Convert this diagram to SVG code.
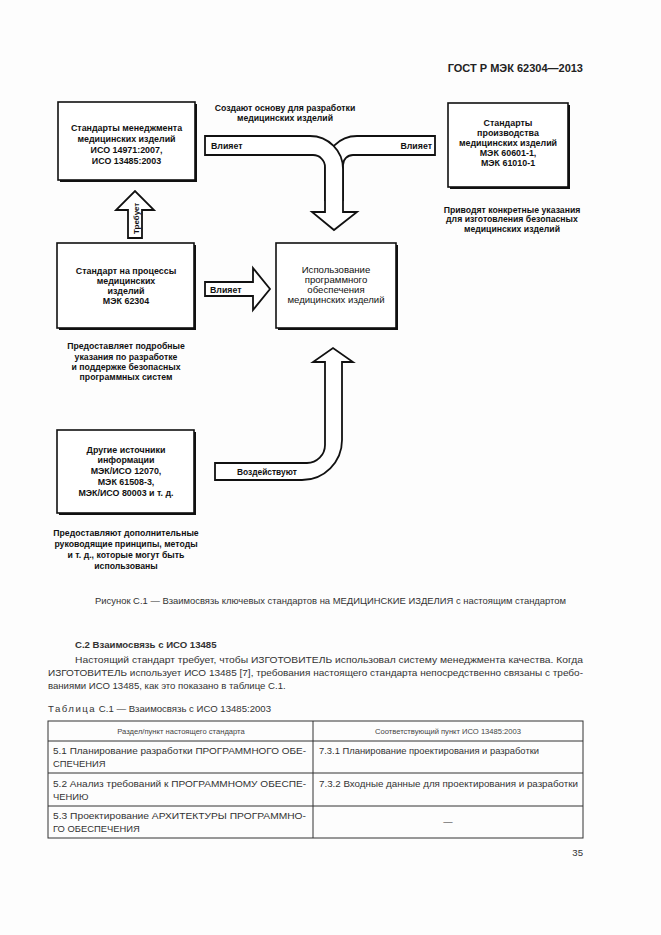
<svg xmlns="http://www.w3.org/2000/svg" width="661" height="935" viewBox="0 0 661 935">
<style>
.bg{fill:#fdfdfd}
.box{fill:#fff;stroke:#111;stroke-width:1.6}
.sh{fill:#111}
.arr{fill:#fff;stroke:#111;stroke-width:1.8;stroke-linejoin:miter}
.t{font-family:"Liberation Sans",Arial,sans-serif;font-size:8.9px;fill:#111;text-anchor:middle}
.c{font-size:8.7px}
.n{font-size:9.6px}
.b{font-weight:bold}
.al{font-family:"Liberation Sans",Arial,sans-serif;font-size:8.8px;font-weight:bold;fill:#111}
.p{font-family:"Liberation Sans",Arial,sans-serif;font-size:9.6px;fill:#333}
.tc{font-family:"Liberation Sans",Arial,sans-serif;font-size:9.4px;fill:#333}
.th{font-family:"Liberation Sans",Arial,sans-serif;font-size:7.6px;fill:#444;text-anchor:middle}
.grid{fill:none;stroke:#333;stroke-width:1}
</style>
<rect class="bg" x="0" y="0" width="661" height="935"/>
<text class="p b" x="583" y="72" text-anchor="end" style="font-size:11px;fill:#222">ГОСТ Р МЭК 62304—2013</text>

<g id="connectors">
  <path class="arr" d="M435,136 H357 A32,32 0 0 0 325,168 V200 H343 V165 A10,10 0 0 1 353,155 H435 Z"/>
  <path class="arr" d="M205,136 H310 A33,33 0 0 1 343,169 V212 H357 L334,230 L312,212 H325 V167 A12,12 0 0 0 313,155 H205 Z"/>
  <text class="al" x="211" y="149">Влияет</text>
  <text class="al" x="432" y="149" text-anchor="end">Влияет</text>
  <path class="arr" d="M128,238 V210 H116 L135,191 L154,210 H142 V238 Z"/>
  <text class="al" transform="translate(138.5,234) rotate(-90)" style="font-size:8px">Требует</text>
  <path class="arr" d="M205,282 H253 V268 L270,289 L253,310 V296 H205 Z"/>
  <text class="al" x="210" y="292.5">Влияет</text>
  <path class="arr" d="M215,463 H307 A18,18 0 0 0 325,445 V362 H313 L333,348 L353,362 H342 V440 A40,40 0 0 1 302,480 H215 Z"/>
  <text class="al" x="237" y="475" style="font-size:8.4px">Воздействуют</text>
  <text class="t c b" x="285" y="111">Создают основу для разработки</text>
  <text class="t c b" x="285" y="121">медицинских изделий</text>
</g>

<g id="node-mgmt">
  <rect class="sh" x="60" y="104" width="137" height="78"/>
  <rect class="box" x="58" y="102" width="137" height="78"/>
  <text class="t b" x="126.5" y="131">Стандарты менеджмента</text>
  <text class="t b" x="126.5" y="142">медицинских изделий</text>
  <text class="t b" x="126.5" y="153">ИСО 14971:2007,</text>
  <text class="t b" x="126.5" y="164">ИСО 13485:2003</text>
</g>

<g id="node-prod">
  <rect class="sh" x="450" y="105" width="120" height="84"/>
  <rect class="box" x="448" y="103" width="120" height="84"/>
  <text class="t b" x="508" y="126">Стандарты</text>
  <text class="t b" x="508" y="136">производства</text>
  <text class="t b" x="508" y="146">медицинских изделий</text>
  <text class="t b" x="508" y="156">МЭК 60601-1,</text>
  <text class="t b" x="508" y="166">МЭК 61010-1</text>
  <text class="t c b" x="512" y="213">Приводят конкретные указания</text>
  <text class="t c b" x="512" y="222">для изготовления безопасных</text>
  <text class="t c b" x="512" y="232">медицинских изделий</text>
</g>

<g id="node-process">
  <rect class="sh" x="59" y="245" width="137" height="85"/>
  <rect class="box" x="57" y="243" width="137" height="85"/>
  <text class="t b" x="126" y="274">Стандарт на процессы</text>
  <text class="t b" x="126" y="284">медицинских</text>
  <text class="t b" x="126" y="294">изделий</text>
  <text class="t b" x="126" y="304">МЭК 62304</text>
  <text class="t c b" x="126" y="349">Предоставляет подробные</text>
  <text class="t c b" x="126" y="360">указания по разработке</text>
  <text class="t c b" x="126" y="370">и поддержке безопасных</text>
  <text class="t c b" x="126" y="380">программных систем</text>
</g>

<g id="node-use">
  <rect class="sh" x="278" y="245" width="120" height="85"/>
  <rect class="box" x="276" y="243" width="120" height="85"/>
  <text class="t n" x="336" y="273">Использование</text>
  <text class="t n" x="336" y="283">программного</text>
  <text class="t n" x="336" y="293">обеспечения</text>
  <text class="t n" x="336" y="303">медицинских изделий</text>
</g>

<g id="node-other">
  <rect class="sh" x="59" y="432" width="137" height="83"/>
  <rect class="box" x="57" y="430" width="137" height="83"/>
  <text class="t b" x="126" y="453">Другие источники</text>
  <text class="t b" x="126" y="463">информации</text>
  <text class="t b" x="126" y="474">МЭК/ИСО 12070,</text>
  <text class="t b" x="126" y="485">МЭК 61508-3,</text>
  <text class="t b" x="126" y="496">МЭК/ИСО 80003 и т. д.</text>
  <text class="t c b" x="126" y="536">Предоставляют дополнительные</text>
  <text class="t c b" x="126" y="547">руководящие принципы, методы</text>
  <text class="t c b" x="126" y="558">и т. д., которые могут быть</text>
  <text class="t c b" x="126" y="569">использованы</text>
</g>

<text class="p" x="95" y="604" textLength="471" lengthAdjust="spacingAndGlyphs">Рисунок С.1 — Взаимосвязь ключевых стандартов на МЕДИЦИНСКИЕ ИЗДЕЛИЯ с настоящим стандартом</text>
<text class="p b" x="75" y="648">С.2 Взаимосвязь с ИСО 13485</text>
<text class="p" x="75" y="663" textLength="508" lengthAdjust="spacingAndGlyphs">Настоящий стандарт требует, чтобы ИЗГОТОВИТЕЛЬ использовал систему менеджмента качества. Когда</text>
<text class="p" x="48" y="676" textLength="535" lengthAdjust="spacingAndGlyphs">ИЗГОТОВИТЕЛЬ использует ИСО 13485 [7], требования настоящего стандарта непосредственно связаны с требо-</text>
<text class="p" x="48" y="689">ваниями ИСО 13485, как это показано в таблице С.1.</text>
<text class="p" x="48" y="712"><tspan letter-spacing="1.5">Таблица</tspan> С.1 — Взаимосвязь с ИСО 13485:2003</text>

<g id="table">
  <rect class="grid" x="48" y="721" width="535" height="117"/>
  <line class="grid" x1="48" y1="741" x2="583" y2="741"/>
  <line class="grid" x1="48" y1="773" x2="583" y2="773"/>
  <line class="grid" x1="48" y1="806" x2="583" y2="806"/>
  <line class="grid" x1="313" y1="721" x2="313" y2="838"/>
  <text class="th" x="181" y="734">Раздел/пункт настоящего стандарта</text>
  <text class="th" x="448" y="734">Соответствующий пункт ИСО 13485:2003</text>
  <text class="tc" x="53" y="754" textLength="253" lengthAdjust="spacingAndGlyphs">5.1 Планирование разработки ПРОГРАММНОГО ОБЕ-</text>
  <text class="tc" x="53" y="767">СПЕЧЕНИЯ</text>
  <text class="tc" x="319" y="754">7.3.1 Планирование проектирования и разработки</text>
  <text class="tc" x="53" y="787" textLength="253" lengthAdjust="spacingAndGlyphs">5.2 Анализ требований к ПРОГРАММНОМУ ОБЕСПЕ-</text>
  <text class="tc" x="53" y="800">ЧЕНИЮ</text>
  <text class="tc" x="319" y="787" textLength="259" lengthAdjust="spacingAndGlyphs">7.3.2 Входные данные для проектирования и разработки</text>
  <text class="tc" x="53" y="819" textLength="253" lengthAdjust="spacingAndGlyphs">5.3 Проектирование АРХИТЕКТУРЫ ПРОГРАММНО-</text>
  <text class="tc" x="53" y="832">ГО ОБЕСПЕЧЕНИЯ</text>
  <text class="tc" x="448" y="825" text-anchor="middle">—</text>
</g>
<text class="p" x="583" y="856" text-anchor="end">35</text>
</svg>
